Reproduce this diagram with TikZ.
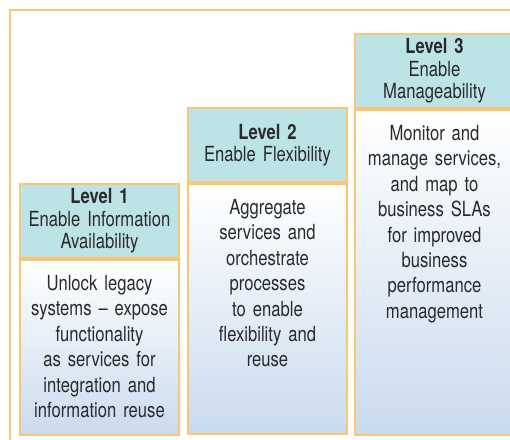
\documentclass[tikz,border=0pt]{standalone}
\usepackage{fontspec}
\setmainfont{TeX Gyre Heros}[FakeStretch=0.8]
\usepackage{xcolor}
\definecolor{pale-orange}{HTML}{FAC673}
\definecolor{pale-teal}{HTML}{BCE3E5}
\definecolor{pale-blue}{HTML}{CADBEE}
\definecolor{ink}{HTML}{2A2A2C}
\usepackage{tikz}
\usetikzlibrary{positioning}
\tikzset{hdr/.style = {draw=pale-orange, line width=1pt, fill=pale-teal, align=center, text centered, minimum width=79.5pt, minimum height=37pt, inner sep=0pt, text width=78pt, font=\fontsize{10.4}{11.2}\selectfont, text=ink}}
\tikzset{body/.style = {draw=pale-orange, line width=1pt, top color=white, bottom color=pale-blue, minimum width=79.5pt, inner sep=0pt}}
\tikzset{bodytext/.style = {align=center, text centered, text width=78pt, inner sep=0pt, font=\fontsize{10.4}{12.7}\selectfont, text=ink}}
\tikzset{frame/.style = {draw=pale-orange, line width=0.8pt}}

\begin{document}
\begin{tikzpicture}[x=0.5pt, y=-0.5pt]
\useasboundingbox (0,0) rectangle (510,440);

\draw[frame] (10,440) |- (520,10);

\node[hdr, anchor=north west] (h1) at (19,183) {\textbf{Level 1}\\Enable Information\\Availability};
\node[body, below=0pt of h1, minimum height=87.5pt] (b1) {};
\node[bodytext, below=8pt of b1.north] (t1) {Unlock legacy\\systems -- expose\\functionality\\as services for\\integration and\\information reuse};

\node[hdr, anchor=north west] (h2) at (187,107) {\textbf{Level 2}\\Enable Flexibility};
\node[body, below=0pt of h2, minimum height=125pt] (b2) {};
\node[bodytext, below=8pt of b2.north] (t2) {Aggregate\\services and\\orchestrate\\processes\\to enable\\flexibility and\\reuse};

\node[hdr, anchor=north west] (h3) at (354,33) {\textbf{Level 3}\\Enable\\Manageability};
\node[body, below=0pt of h3, minimum height=162.5pt] (b3) {};
\node[bodytext, below=8pt of b3.north] (t3) {Monitor and\\manage services,\\and map to\\business SLAs\\for improved\\business\\performance\\management};

\end{tikzpicture}
\end{document}
